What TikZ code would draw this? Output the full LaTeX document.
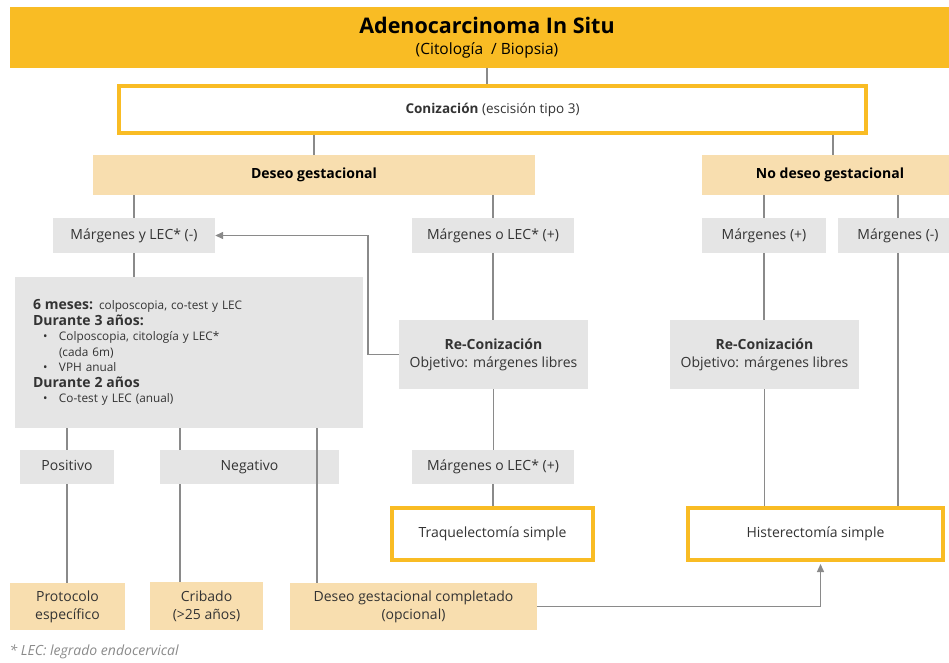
\documentclass[tikz,border=0pt]{standalone}
\usepackage{fontspec}
\setmainfont{Open Sans}
\usetikzlibrary{arrows.meta, positioning, calc}

\definecolor{oro}{HTML}{F9BC24}
\definecolor{crema}{HTML}{F8DEAF}
\definecolor{gris}{HTML}{E5E5E5}
\definecolor{linea}{HTML}{8A8A8A}
\definecolor{texto}{HTML}{333333}

\begin{document}
\begin{tikzpicture}[x=1pt, y=-1pt,
    cabecera/.style={rectangle, fill=oro, minimum width=954pt, minimum height=61pt, align=center, font=\fontsize{15.5}{21}\selectfont},
    paso/.style={rectangle, fill=gris, text=texto, align=center, inner sep=2pt, font=\fontsize{14}{18}\selectfont},
    rama/.style={rectangle, fill=crema, text=black, align=center, inner sep=2pt, font=\fontsize{14}{18}\selectfont},
    final/.style={rectangle, draw=oro, line width=4pt, fill=white, text=texto, align=center, font=\fontsize{14}{18}\selectfont},
    una/.style={text height=11pt, text depth=3.5pt},
    link/.style={draw=linea, line width=1.4pt},
    flecha/.style={link, -{Triangle[length=8pt, width=7pt]}},
    nota/.style={font=\fontsize{14}{16}\selectfont\itshape, text=linea}
]
\useasboundingbox (0,0) rectangle (949,662);

% Header and conization
\node[cabecera] (titulo) at (487,37.5) {{\fontsize{21.5}{21}\selectfont\bfseries Adenocarcinoma In Situ}\\(Citología~ / Biopsia)};
\node[final, una, minimum width=747pt, minimum height=47pt, font=\fontsize{13.5}{16}\selectfont] (coniz) at (492.5,109.5) {{\bfseries Conización} (escisión tipo 3)};

% Gestational wish branches
\node[rama, una, minimum width=442pt, minimum height=40pt] (deseo) at (314,175) {\bfseries Deseo gestacional};
\node[rama, una, minimum width=256pt, minimum height=40pt] (nodeseo) at (830,175) {\bfseries No deseo gestacional};

% Margin results
\node[paso, una, minimum width=162pt, minimum height=35pt] (mneg) at (134,235.5) {Márgenes y LEC* (-)};
\node[paso, una, minimum width=162pt, minimum height=35pt] (mpos) at (493,235.5) {Márgenes o LEC* (+)};
\node[paso, una, minimum width=124pt, minimum height=35pt] (mpos3) at (764,235.5) {Márgenes (+)};
\node[paso, una, minimum width=120pt, minimum height=35pt] (mneg3) at (898,235.5) {Márgenes (-)};

% Follow-up box
\node[paso, minimum width=348pt, minimum height=151pt, text width=312pt, inner xsep=18pt, align=left,
      font=\fontsize{11.8}{15.5}\selectfont] (seguim) at (189,352.5) {%
{\fontsize{14}{15.5}\selectfont\bfseries 6 meses:} colposcopia, co-test y LEC\\
{\fontsize{14}{15.5}\selectfont\bfseries Durante 3 años:}\\
\hspace*{10pt}\makebox[16pt][l]{•}Colposcopia, citología y LEC*\\
\hspace*{26pt}(cada 6m)\\
\hspace*{10pt}\makebox[16pt][l]{•}VPH anual\\
{\fontsize{14}{15.5}\selectfont\bfseries Durante 2 años}\\
\hspace*{10pt}\makebox[16pt][l]{•}Co-test y LEC (anual)};

% Re-conizations
\node[paso, minimum width=189pt, minimum height=69pt] (reco) at (493.5,354.5) {\bfseries Re-Conización\\Objetivo: márgenes libres};
\node[paso, minimum width=189pt, minimum height=69pt] (reco3) at (764.5,354.5) {\bfseries Re-Conización\\Objetivo: márgenes libres};

% Results after follow-up
\node[paso, una, minimum width=94pt, minimum height=34pt] (positivo) at (67,467) {Positivo};
\node[paso, una, minimum width=179pt, minimum height=34pt] (negativo) at (249.5,467) {Negativo};
\node[paso, una, minimum width=162pt, minimum height=34pt] (mpos2) at (493,467) {Márgenes o LEC* (+)};

% Surgery
\node[final, una, minimum width=201pt, minimum height=52pt] (traq) at (492.5,534) {Traquelectomía simple};
\node[final, una, minimum width=255pt, minimum height=52pt] (hist) at (815.5,534) {Histerectomía simple};

% Final outcomes
\node[rama, minimum width=115pt, minimum height=47pt, text=texto] (protocolo) at (67.5,606.5) {Protocolo\\específico};
\node[rama, minimum width=113pt, minimum height=48pt, text=texto] (cribado) at (206.5,606) {Cribado\\(>25 años)};
\node[rama, minimum width=247pt, minimum height=47pt, text=texto] (completado) at (413.5,606.5) {Deseo gestacional completado\\(opcional)};

\node[nota, anchor=west] (lec) at (6,652) {* LEC: legrado endocervical};

% Connectors
\draw[link] (titulo) -- (titulo |- coniz.north);
\draw[link] (coniz.south -| deseo) -- (deseo);
\draw[link] ([xshift=3pt]coniz.south -| nodeseo) -- ([xshift=3pt]nodeseo.north);
\draw[link] (deseo.south -| mneg) -- (mneg);
\draw[link] (deseo.south -| mpos) -- (mpos);
\draw[link] (nodeseo.south -| mpos3) -- (mpos3);
\draw[link] (nodeseo.south -| mneg3) -- (mneg3);

\draw[link] (mneg) -- (mneg |- seguim.north);
\draw[link] (mpos) -- (mpos |- reco.north);
\draw[flecha] (reco.west) -- ++(-31,0) |- (mneg.east);
\draw[link] (reco) -- (reco |- mpos2.north);
\draw[link] (mpos2) -- (mpos2 |- traq.north);

\draw[link] (mpos3) -- (mpos3 |- reco3.north);
\draw[link] (reco3) -- (reco3 |- hist.north);
\draw[link] (mneg3) -- (mneg3 |- hist.north);

\draw[link] (positivo |- seguim.south) -- (positivo);
\draw[link] ([xshift=20pt]negativo.north west |- seguim.south) -- ([xshift=20pt]negativo.north west);
\draw[link] ([xshift=27pt]completado.north west |- seguim.south) -- ([xshift=27pt]completado.north west);
\draw[link] (positivo) -- (positivo |- protocolo.north);
\draw[link] ([xshift=20pt]negativo.south west) -- ([xshift=20pt]negativo.south west |- cribado.north);
\draw[flecha, shorten >=2pt] (completado.east) -| ([xshift=5pt]hist.south);

\end{tikzpicture}
\end{document}
